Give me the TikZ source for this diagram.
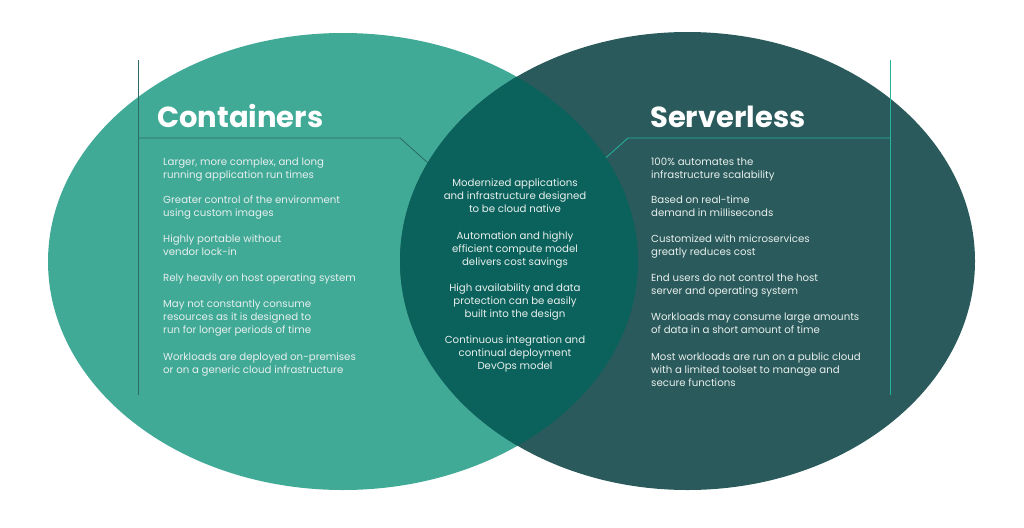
\documentclass[tikz,border=0pt]{standalone}
\usepackage{fontspec}
\setmainfont{Poppins}
\usetikzlibrary{positioning}

\definecolor{contgreen}{HTML}{40AA97}
\definecolor{servdark}{HTML}{2A5A5B}
\definecolor{overlap}{HTML}{0B625C}
\definecolor{lineteal}{HTML}{22B59C}
\definecolor{linedark}{HTML}{2C6A66}
\definecolor{txtwhite}{HTML}{E8EFED}

\tikzset{
  title/.style={font=\fontsize{29}{32}\selectfont\bfseries, text=white, inner sep=0pt, anchor=base west},
  item/.style={font=\fontsize{10.2}{13}\selectfont, text=txtwhite, inner sep=0pt, align=left, anchor=north west},
  middleitem/.style={item, align=center, anchor=north},
}

\begin{document}
\begin{tikzpicture}[x=1pt,y=-1pt]
			\useasboundingbox (0,0) rectangle (1024,527);
			\coordinate (L) at (343,261.5);
			\coordinate (R) at (687.5,261);

			\fill[contgreen] (L) ellipse [x radius=295pt, y radius=228.5pt];
			\fill[servdark] (R) ellipse [x radius=287.5pt, y radius=229pt];

			\begin{scope}[line width=0.8pt]
			    \draw[linedark] (138,60) coordinate (cl-top) -- (138,395) coordinate (cl-bottom);
			    \draw[linedark] (138,138) coordinate (cl-corner) -- (400,138) coordinate (cl-bend) -- (428,163) coordinate (cl-end);
			    \draw[lineteal] (890,60) coordinate (sl-top) -- (890,395) coordinate (sl-bottom);
			    \draw[lineteal] (890,138) coordinate (sl-corner) -- (628,138) coordinate (sl-bend) -- (600,163) coordinate (sl-end);
			\end{scope}

			\begin{scope}
			    \clip (L) ellipse [x radius=295pt, y radius=228.5pt];
			    \fill[overlap] (R) ellipse [x radius=287.5pt, y radius=229pt];
			\end{scope}

			\node[title] (containers) at (157,127) {Containers};
			\node[title] (serverless) at (650,127) {Serverless};

			\node[item] (c1) at (163,157.5) {Larger, more complex, and long\\running application run times};
			\node[item] (c2) at (163,195.5) {Greater control of the environment\\using custom images};
			\node[item] (c3) at (163,234.5) {Highly portable without\\vendor lock-in};
			\node[item] (c4) at (163,273.5) {Rely heavily on host operating system};
			\node[item] (c5) at (163,299.5) {May not constantly consume\\resources as it is designed to\\run for longer periods of time};
			\node[item] (c6) at (163,352.5) {Workloads are deployed on-premises\\or on a generic cloud infrastructure};

			\node[middleitem] (b1) at (515,178.5) {Modernized applications\\and infrastructure designed\\to be cloud native};
			\node[middleitem] (b2) at (515,231.5) {Automation and highly\\efficient compute model\\delivers cost savings};
			\node[middleitem] (b3) at (515,283.5) {High availability and data\\protection can be easily\\built into the design};
			\node[middleitem] (b4) at (515,335.5) {Continuous integration and\\continual deployment\\DevOps model};

			\node[item] (s1) at (651,157.5) {100\% automates the\\infrastructure scalability};
			\node[item] (s2) at (651,195.5) {Based on real-time\\demand in milliseconds};
			\node[item] (s3) at (651,234.5) {Customized with microservices\\greatly reduces cost};
			\node[item] (s4) at (651,273.5) {End users do not control the host\\server and operating system};
			\node[item] (s5) at (651,312.5) {Workloads may consume large amounts\\of data in a short amount of time};
			\node[item] (s6) at (651,352.5) {Most workloads are run on a public cloud\\with a limited toolset to manage and\\secure functions};
		    \end{tikzpicture}
\end{document}
